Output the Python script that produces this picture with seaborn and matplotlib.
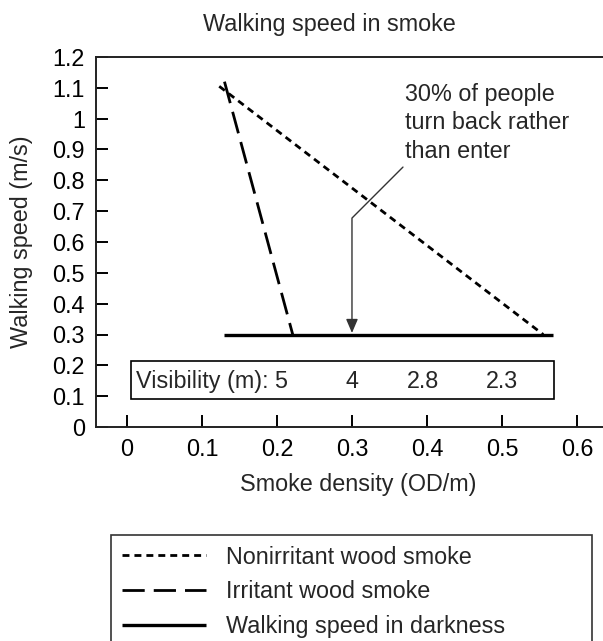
import matplotlib
matplotlib.use("Agg")
import matplotlib.pyplot as plt
import seaborn as sns
import pandas as pd
from matplotlib.patches import Rectangle

# chart data
SERIES_NAMES = ["Nonirritant wood smoke", "Irritant wood smoke", "Walking speed in darkness"]
NONIRRITANT_X = [0.123, 0.555]
NONIRRITANT_Y = [1.105, 0.30]
IRRITANT_X = [0.130, 0.221]
IRRITANT_Y = [1.12, 0.30]
DARKNESS_X = [0.130, 0.568]
DARKNESS_Y = [0.30, 0.30]

VIS_DENSITY = [0.205, 0.30, 0.395, 0.50]
VIS_LABELS = ["5", "4", "2.8", "2.3"]

X_TICKS = [0, 0.1, 0.2, 0.3, 0.4, 0.5, 0.6]
X_TICK_LABELS = ["0", "0.1", "0.2", "0.3", "0.4", "0.5", "0.6"]
Y_TICKS = [0, 0.1, 0.2, 0.3, 0.4, 0.5, 0.6, 0.7, 0.8, 0.9, 1.0, 1.1, 1.2]
Y_TICK_LABELS = ["0", "0.1", "0.2", "0.3", "0.4", "0.5", "0.6", "0.7", "0.8", "0.9", "1", "1.1", "1.2"]

FONT_SIZE = 16.8
W, H = 603, 641

sns.set_style("ticks")
plt.rcParams['font.family'] = ['Liberation Sans', 'DejaVu Sans']
plt.rcParams['font.size'] = FONT_SIZE
plt.rcParams['lines.scale_dashes'] = False

fig = plt.figure(figsize=(W / 100, H / 100), dpi=100)
ax = fig.add_axes([96 / W, 1 - 427 / H, (W - 96) / W, 370 / H])

styles = {
    SERIES_NAMES[0]: dict(dashes=(5, 3.6), lw=2.0),
    SERIES_NAMES[1]: dict(dashes=(16, 6.5), lw=2.0),
    SERIES_NAMES[2]: dict(dashes=(None, None), lw=2.4),
}
series = [(NONIRRITANT_X, NONIRRITANT_Y), (IRRITANT_X, IRRITANT_Y), (DARKNESS_X, DARKNESS_Y)]

handles = []
for name, (xs, ys) in zip(SERIES_NAMES, series):
    df = pd.DataFrame({"density": xs, "speed": ys})
    st = styles[name]
    sns.lineplot(data=df, x="density", y="speed", ax=ax, color="black",
                 lw=st["lw"], sort=False, estimator=None, label=name)
    line = ax.lines[-1]
    if st["dashes"][0] is not None:
        line.set_dashes(st["dashes"])
    line.set_solid_capstyle("butt")
    line.set_dash_capstyle("butt")
    handles.append(line)

ax.get_legend().remove()

# visibility box
ax.add_patch(Rectangle((0.005, 0.09), 0.564, 0.123, fill=False, edgecolor="black", lw=1.2))
ax.text(0.012, 0.146, "Visibility (m):", ha="left", va="center", fontsize=FONT_SIZE)
for xv, lab in zip(VIS_DENSITY, VIS_LABELS):
    ax.text(xv, 0.146, lab, ha="center", va="center", fontsize=FONT_SIZE)

# annotation with bent arrow
ax.text(0.371, 0.986, "30% of people\nturn back rather\nthan enter", ha="left", va="center",
        fontsize=FONT_SIZE, linespacing=1.3)
ax.annotate("", xy=(0.30, 0.305), xytext=(0.368, 0.843),
            arrowprops=dict(arrowstyle="-|>,head_length=0.7,head_width=0.3", color="#333333",
                            lw=1.0, shrinkA=0, shrinkB=0, mutation_scale=12,
                            connectionstyle="angle,angleA=225,angleB=90,rad=0"))

ax.set_xlim(-0.0413, 0.6347)
ax.set_ylim(0, 1.2)
ax.set_xticks(X_TICKS)
ax.set_xticklabels(X_TICK_LABELS)
ax.set_yticks(Y_TICKS)
ax.set_yticklabels(Y_TICK_LABELS)
ax.tick_params(direction="in", length=8.5, width=1.4, pad=8, labelsize=FONT_SIZE,
               colors="black")
ax.spines["right"].set_visible(False)
for s in ["left", "bottom", "top"]:
    ax.spines[s].set_linewidth(1.4)
    ax.spines[s].set_color("#222222")
ax.set_xlabel("")
ax.set_ylabel("")

fig.text(329 / W, 1 - 25 / H, "Walking speed in smoke", ha="center", va="center", fontsize=FONT_SIZE)
fig.text(22 / W, 1 - 242 / H, "Walking speed (m/s)", ha="center", va="center",
         rotation=90, fontsize=FONT_SIZE)
fig.text(358 / W, 1 - 485 / H, "Smoke density (OD/m)", ha="center", va="center", fontsize=FONT_SIZE)

leg = fig.legend(handles, SERIES_NAMES, loc="upper left",
                 bbox_to_anchor=(111 / W, 1 - 535 / H, 481 / W, 0), mode="expand",
                 borderaxespad=0, borderpad=0.45, labelspacing=0.5, handlelength=3.6,
                 handletextpad=0.9, fancybox=False, framealpha=1, fontsize=FONT_SIZE)
leg.get_frame().set_edgecolor("#333333")
leg.get_frame().set_linewidth(1.2)

fig.savefig("out.png", dpi=100, facecolor="white")
